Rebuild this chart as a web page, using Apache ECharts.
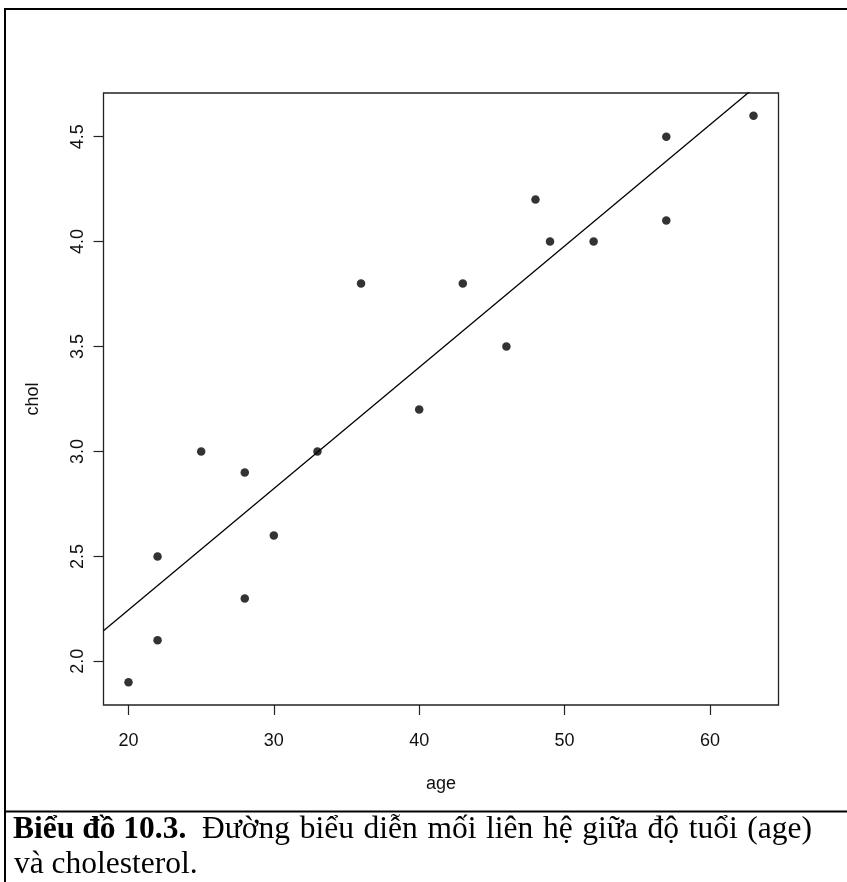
<!DOCTYPE html>
<html>
<head>
<meta charset="utf-8">
<script src="https://cdn.jsdelivr.net/npm/echarts@6/dist/echarts.min.js"></script>
<style>
html,body{margin:0;padding:0;background:#fff;}
#chart{width:847px;height:882px;}
</style>
</head>
<body>
<div id="chart"></div>
<script>
// Data
var age  = [20, 22, 22, 25, 28, 28, 30, 33, 36, 40, 43, 46, 48, 49, 52, 57, 57, 63];
var chol = [1.9, 2.1, 2.5, 3.0, 2.9, 2.3, 2.6, 3.0, 3.8, 3.2, 3.8, 3.5, 4.2, 4.0, 4.0, 4.1, 4.5, 4.6];
var xTicks = [20, 30, 40, 50, 60];
var yTicks = [2.0, 2.5, 3.0, 3.5, 4.0, 4.5];
var xTitle = 'age';
var yTitle = 'chol';
var captionBold = 'Biểu đồ 10.3.';
var captionRest = ['Đường', 'biểu', 'diễn', 'mối', 'liên', 'hệ', 'giữa', 'độ', 'tuổi', '(age)'];
var captionLine2 = 'và cholesterol.';

// R-style axis ranges (data range extended by 4%)
function rRange(v) {
  var lo = Math.min.apply(null, v), hi = Math.max.apply(null, v);
  var d = (hi - lo) * 0.04;
  return [lo - d, hi + d];
}
var xr = rRange(age), yr = rRange(chol);

// Least squares fit
var n = age.length, mx = 0, my = 0;
for (var i = 0; i < n; i++) { mx += age[i]; my += chol[i]; }
mx /= n; my /= n;
var sxx = 0, sxy = 0;
for (var i = 0; i < n; i++) { sxx += (age[i] - mx) * (age[i] - mx); sxy += (age[i] - mx) * (chol[i] - my); }
var slope = sxy / sxx, intercept = my - slope * mx;
var fitLine = [[xr[0], intercept + slope * xr[0]], [xr[1], intercept + slope * xr[1]]];

var points = age.map(function (a, i) { return [a, chol[i]]; });

// Caption line 1: bold label + double space, remaining words justified to the right margin
var serif = 'Liberation Serif, Times New Roman, serif';
var capSize = 31.5;
var capLeft = 13, capRight = 812;
var ctx = document.createElement('canvas').getContext('2d');
function tw(t, bold) { ctx.font = (bold ? 'bold ' : '') + capSize + 'px ' + serif; return ctx.measureText(t).width; }
var boldW = tw(captionBold, true);
var spaceW = tw(' ', false);
var restLeft = capLeft + boldW + 2 * spaceW;
var restTotal = 0;
captionRest.forEach(function (t) { restTotal += tw(t, false); });
var gapW = Math.max(spaceW, (capRight - restLeft - restTotal) / (captionRest.length - 1));
var rich = {
  b: {fontFamily: serif, fontSize: capSize, fontWeight: 'bold', fill: '#000', padding: [0, 2 * spaceW, 0, 0]}
};
var richText = '{b|' + captionBold + '}';
captionRest.forEach(function (t, i) {
  var key = 'w' + i;
  rich[key] = {fontFamily: serif, fontSize: capSize, fill: '#000', padding: [0, i < captionRest.length - 1 ? gapW : 0, 0, 0]};
  richText += '{' + key + '|' + t + '}';
});

var chart = echarts.init(document.getElementById('chart'), null, {renderer: 'canvas'});
var axisFont = 'Liberation Sans, Arial, sans-serif';
chart.setOption({
  backgroundColor: '#fff',
  animation: false,
  grid: {
    left: 103.5, top: 93, width: 675, height: 612,
    show: true, borderColor: '#222', borderWidth: 1.3, backgroundColor: 'transparent',
    outerBoundsMode: 'none', containLabel: false
  },
  xAxis: {
    type: 'value', min: xr[0], max: xr[1],
    splitLine: {show: false},
    axisLine: {show: false},
    axisTick: {show: true, inside: false, length: 10, customValues: xTicks, lineStyle: {color: '#222', width: 1.2}},
    axisLabel: {show: true, customValues: xTicks, margin: 27, color: '#111', fontFamily: axisFont, fontSize: 18},
    name: xTitle, nameLocation: 'middle', nameGap: 70,
    nameTextStyle: {color: '#111', fontFamily: axisFont, fontSize: 18}
  },
  yAxis: {
    type: 'value', min: yr[0], max: yr[1],
    splitLine: {show: false},
    axisLine: {show: false},
    axisTick: {show: true, inside: false, length: 10, customValues: yTicks, lineStyle: {color: '#222', width: 1.2}},
    axisLabel: {show: true, customValues: yTicks, rotate: 90, margin: 16, color: '#111', fontFamily: axisFont, fontSize: 18,
      formatter: function (v) { return Number(v).toFixed(1); }},
    name: yTitle, nameLocation: 'middle', nameGap: 61, nameRotate: 90,
    nameTextStyle: {color: '#111', fontFamily: axisFont, fontSize: 18}
  },
  series: [
    {
      type: 'scatter', data: points, symbol: 'circle', symbolSize: 8.5,
      itemStyle: {color: '#000'}, z: 3
    },
    {
      type: 'line', data: fitLine, showSymbol: false, symbol: 'none', clip: true,
      lineStyle: {color: '#000', width: 1.3}, z: 2
    }
  ],
  graphic: [
    {type: 'line', shape: {x1: 5, y1: 8, x2: 5, y2: 882}, style: {stroke: '#000', lineWidth: 2}},
    {type: 'line', shape: {x1: 4, y1: 9, x2: 847, y2: 9}, style: {stroke: '#000', lineWidth: 2}},
    {type: 'line', shape: {x1: 4, y1: 811.5, x2: 847, y2: 811.5}, style: {stroke: '#000', lineWidth: 2}},
    {type: 'text', x: capLeft, y: 830, style: {
      text: richText, verticalAlign: 'middle', align: 'left', rich: rich
    }},
    {type: 'text', x: capLeft + 1, y: 865, style: {
      text: captionLine2, verticalAlign: 'middle', align: 'left',
      fontFamily: serif, fontSize: capSize, fill: '#000'
    }}
  ]
});
</script>
</body>
</html>
